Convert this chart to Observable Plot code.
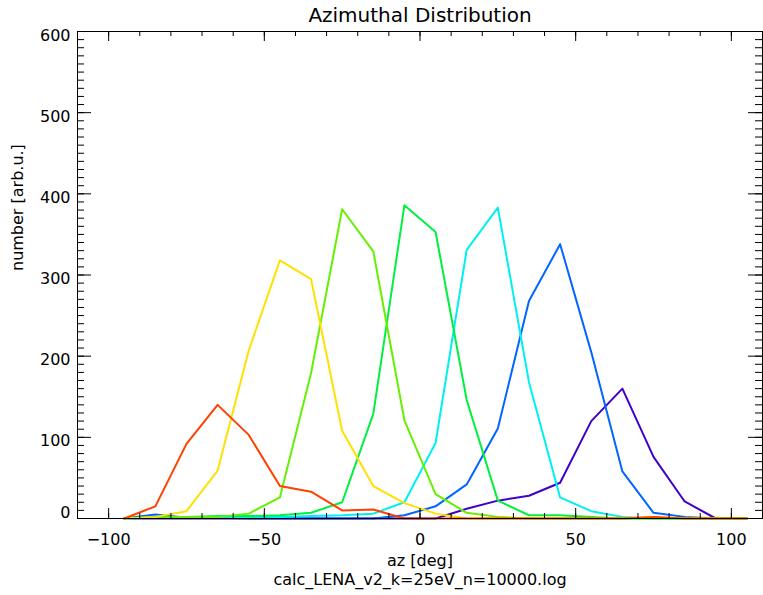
<!DOCTYPE html>
<html>
<head>
<meta charset="utf-8">
<script src="https://cdn.jsdelivr.net/npm/d3@7"></script>
<script src="https://cdn.jsdelivr.net/npm/@observablehq/plot@0.6"></script>
<style>
  html, body { margin: 0; padding: 0; background: #fff; }
</style>
</head>
<body>
<div id="chart"></div>
<script>
// Azimuth bin centres (deg)
const az = [-95,-85,-75,-65,-55,-45,-35,-25,-15,-5,5,15,25,35,45,55,65,75,85,95,105];

// Series values (number, arb.u.), one per bin
const sPurple = [0,0,0,0,0,0,0,0,0,0,0,12,22,28,44,120,160,76,21,0,0];
const sBlue   = [0,5,1,1,0,0,0,0,0,4,15,42,111,268,338,205,58,7,2,0,0];
const sCyan   = [0,1,1,1,2,2,3,4,6,20,93,331,383,168,26,9,2,0,0,0,0];
const sGreen  = [0,2,2,3,3,4,7,20,129,386,353,146,22,4,4,2,0,0,0,0,0];
const sYGreen = [0,1,2,2,6,26,179,381,329,121,30,7,2,0,0,0,0,0,0,0,0];
const sYellow = [0,2,9,59,207,318,295,108,40,19,6,0,0,0,0,0,0,2,0,0,0];
const sRed    = [0,15,92,140,103,40,33,10,11,0,0,0,0,0,0,0,0,2,0,0,0];

const seriesList = [sPurple, sBlue, sCyan, sGreen, sYGreen, sYellow, sRed];
const seriesColors = ["#4000cc", "#0066ff", "#00f0f0", "#00f040", "#66f000", "#ffe000", "#ff4000"];

// Axis ticks
const xMajor = [-100, -50, 0, 50, 100];
const xMinor = d3.range(-110, 111, 10);
const yMajor = [100, 200, 300, 400, 500, 600];
const yMinor = d3.range(0, 601, 10);

const titleText = "Azimuthal Distribution";
const xLabel = "az [deg]";
const yLabel = "number [arb.u.]";
const captionText = "calc_LENA_v2_k=25eV_n=10000.log";

const W = 763, H = 595;
const mT = 31, mR = 1, mB = 77, mL = 77;
const plotW = W - mL - mR, plotH = H - mT - mB;

const lineMarks = seriesList.map((vals, i) =>
  Plot.line(az.map((a, j) => ({az: a, n: vals[j]})), {
    x: "az", y: "n", stroke: seriesColors[i], strokeWidth: 2
  })
);

const chart = Plot.plot({
  width: W, height: H,
  marginTop: mT, marginRight: mR, marginBottom: mB, marginLeft: mL,
  style: {fontFamily: "DejaVu Sans", fontSize: "16px", color: "#000", background: "#fff"},
  x: {domain: [-110, 110], axis: null},
  y: {domain: [0, 600], axis: null},
  marks: [
    ...lineMarks,
    // inward ticks, bottom & top
    Plot.tickX(xMinor, {x: d => d, stroke: "#000", insetTop: plotH - 5}),
    Plot.tickX(xMajor, {x: d => d, stroke: "#000", insetTop: plotH - 10}),
    Plot.tickX(xMinor, {x: d => d, stroke: "#000", insetBottom: plotH - 5}),
    Plot.tickX(xMajor, {x: d => d, stroke: "#000", insetBottom: plotH - 10}),
    // inward ticks, left & right
    Plot.tickY(yMinor, {y: d => d, stroke: "#000", insetRight: plotW - 7}),
    Plot.tickY([0, ...yMajor], {y: d => d, stroke: "#000", insetRight: plotW - 14}),
    Plot.tickY(yMinor, {y: d => d, stroke: "#000", insetLeft: plotW - 7}),
    Plot.tickY([0, ...yMajor], {y: d => d, stroke: "#000", insetLeft: plotW - 14}),
    Plot.frame({stroke: "#000"}),
    Plot.axisX({ticks: xMajor, tickSize: 0, tickPadding: 15, fontSize: 16, label: null}),
    Plot.axisY({ticks: yMajor, tickSize: 0, tickPadding: 7, fontSize: 16, dy: 4, label: null}),
    Plot.axisY({ticks: [0], tickSize: 0, tickPadding: 7, fontSize: 16, dy: -6, label: null}),
    Plot.text([titleText], {frameAnchor: "top", lineAnchor: "middle", dy: -16, fontSize: 20, text: d => d}),
    Plot.text([yLabel], {frameAnchor: "left", lineAnchor: "middle", dx: -60, dy: -4, rotate: -90, fontSize: 16, text: d => d}),
    Plot.text([xLabel], {frameAnchor: "bottom", lineAnchor: "middle", dy: 42, fontSize: 16, text: d => d}),
    Plot.text([captionText], {frameAnchor: "bottom", lineAnchor: "middle", dy: 61, fontSize: 16, text: d => d})
  ]
});

document.getElementById("chart").appendChild(chart);
</script>
</body>
</html>
